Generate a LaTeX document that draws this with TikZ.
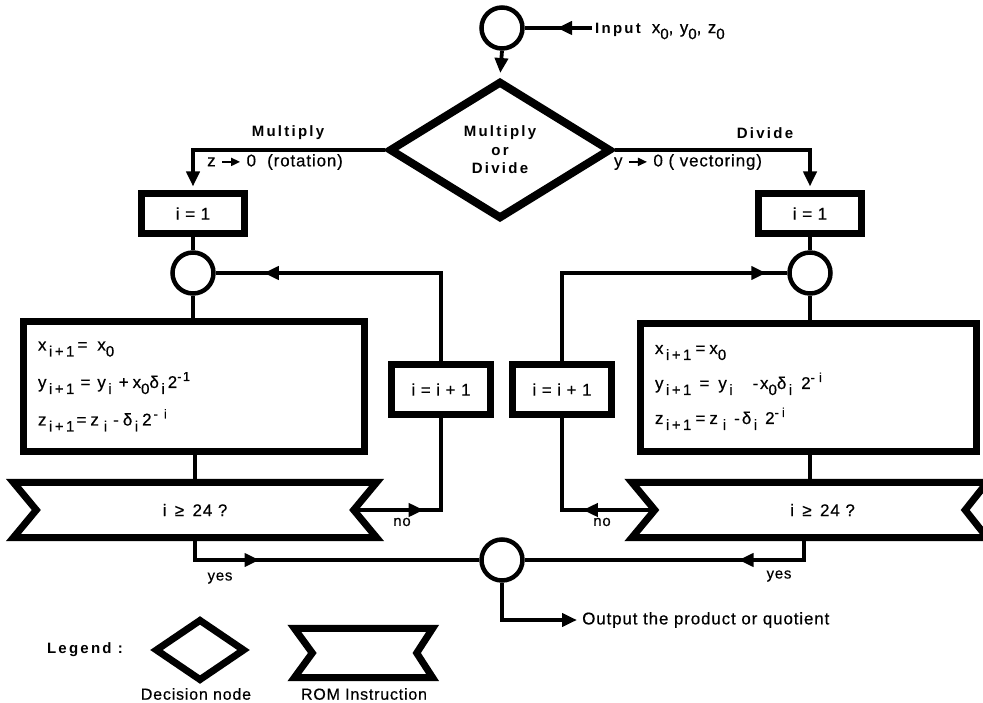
\documentclass[tikz,border=0pt]{standalone}
\usepackage{fontspec}
\setmainfont{Liberation Sans}[LetterSpace=5,FakeBold=0.4]
\newfontfamily\hdr{Liberation Sans}[LetterSpace=15]
\newfontfamily\eqf{Liberation Sans}[LetterSpace=10,FakeBold=0.4]
\usetikzlibrary{arrows.meta,shapes.geometric,decorations.markings}
\newcommand{\lo}[1]{\raisebox{-6pt}{\fontsize{15}{15}\selectfont #1}}
\newcommand{\hi}[1]{\raisebox{7pt}{\fontsize{13}{13}\selectfont #1}}
\newcommand{\ipo}{i\hspace{2.5pt}+\hspace{2.5pt}1}
\newcommand{\sarr}{\tikz[baseline=-4.5pt]\draw[line width=1.8pt,-{Triangle[length=9pt,width=8pt]}] (0pt,0pt) -- (18pt,0pt);}
\begin{document}
\begin{tikzpicture}[x=1pt,y=-1pt,font=\fontsize{17}{20}\selectfont,
  >={Triangle[length=15pt,width=13pt]},
  conn/.style={line width=3.8pt},
  midarr/.style={postaction={decorate},decoration={markings,mark=at position #1 with {\arrow{>}}}},
  jn/.style={circle,draw,line width=4.5pt,minimum size=41pt,inner sep=0pt},
  box/.style={draw,line width=7pt,inner sep=0pt,align=center},
  rom/.style={line width=7pt,line join=miter},
  hd/.style={font=\hdr\bfseries\fontsize{15}{18.5}\selectfont},
  sm/.style={font=\fontsize{15}{18}\selectfont}]
\fill[white] (0,0) rectangle (983,703);
\useasboundingbox (0,0) rectangle (983,703);

% top
\node[jn] (c0) at (502,28) {};
\coordinate (inp) at (592,28);
\node[anchor=west,inner sep=0pt] (inl) at (595,31) {{\hdr\bfseries\fontsize{15}{18}\selectfont Input}\hspace{11pt}{\eqf x\lo{0}, y\lo{0}, z\lo{0}}};
\draw[conn,midarr=35pt] (inp) -- (c0.east);

\node[diamond,draw,line width=8pt,minimum width=222pt,minimum height=138pt,inner sep=0pt,align=center,hd] (dec) at (500,150) {Multiply\\or\\Divide};
\draw[conn,->,shorten >=4pt] (c0.south) -- (dec.north);

% branch labels
\node[hd] (mul) at (288,133) {Multiply};
\node (rot) at (275,162) {z \sarr{} 0 \ (rotation)};
\node[hd] (div) at (765,133) {Divide};
\node (vec) at (688,162) {y \sarr{} 0 ( vectoring)};

% i = 1 boxes
\node[box,minimum width=103pt,minimum height=40pt] (li1) at (193,213.5) {i = 1};
\node[box,minimum width=103pt,minimum height=40pt] (ri1) at (810,213.5) {i = 1};
\draw[conn,->,shorten >=3.5pt] (dec.west) -| (li1.north);
\draw[conn,->,shorten >=3.5pt] (dec.east) -| (ri1.north);

% circles
\node[jn] (lc) at (193,273) {};
\node[jn] (rc) at (810,273) {};
\draw[conn] (li1.south) -- (lc.north);
\draw[conn] (ri1.south) -- (rc.north);

% big boxes
\node[box,minimum width=341pt,minimum height=130pt,text width=312pt,inner xsep=14.5pt,align=left,font=\eqf\fontsize{17}{37.5}\selectfont] (lbox) at (194,386.5)
 {x\lo{\,\ipo}\hspace{3pt}=\hspace{10pt}x\lo{0}\\
  y\lo{\,\ipo}\hspace{6pt}=\hspace{7pt}y\lo{\,i}\hspace{7pt}+\hspace{4pt}x\lo{0}δ\lo{\,i}\hspace{3pt}2\hi{-1}\\
  z\lo{\,\ipo}\hspace{2pt}=\hspace{4pt}z\lo{\,\,i}\hspace{6pt}-\hspace{4pt}δ\lo{\,i}\hspace{4pt}2\hi{\hspace{2pt}-\hspace{6pt}i}};
\node[box,minimum width=336pt,minimum height=128pt,text width=307pt,inner xsep=14.5pt,align=left,font=\eqf\fontsize{17}{35}\selectfont] (rbox) at (808.5,387.5)
 {x\lo{\,\ipo}\hspace{4pt}=\hspace{4pt}x\lo{0}\\
  y\lo{\,\ipo}\hspace{8pt}=\hspace{9pt}y\lo{\,i}\hspace{20pt}-x\lo{0}δ\lo{\,i}\hspace{9pt}2\hi{-\hspace{4pt}i}\\
  z\lo{\,\ipo}\hspace{4pt}=\hspace{4pt}z\lo{\,\,i}\hspace{8pt}-\hspace{2pt}δ\lo{\,i}\hspace{8pt}2\hi{-\hspace{3pt}i}};
\draw[conn] (lc.south) -- (lc.south |- lbox.north);
\draw[conn] (rc.south) -- (rc.south |- rbox.north);

% i = i + 1 boxes
\node[box,minimum width=99pt,minimum height=50pt] (lii) at (441,389.5) {i = i + 1};
\node[box,minimum width=99pt,minimum height=50pt] (rii) at (562,389.5) {i = i + 1};

% ROM instructions
\node[minimum width=363pt,minimum height=55pt,inner sep=0pt] (lrom) at (195,510) {i \,≥\, 24 ?};
\draw[rom] (lrom.north west) -- (lrom.north east) -- ([xshift=-23pt]lrom.east) -- (lrom.south east)
  -- (lrom.south west) -- ([xshift=23pt]lrom.west) -- cycle;
\node[minimum width=355pt,minimum height=55pt,inner sep=0pt] (rrom) at (809.5,510) {\hspace*{26pt}i \,≥\, 24 ?};
\draw[rom] (rrom.north west) -- (rrom.north east) -- ([xshift=-22pt]rrom.east) -- (rrom.south east)
  -- (rrom.south west) -- ([xshift=23pt]rrom.west) -- cycle;
\draw[conn] (lbox.south -| lrom.north) -- (lrom.north);
\draw[conn] (rc.south |- rbox.south) -- (rc.south |- rrom.north);

% loops
\coordinate (lnotch) at ([xshift=-23pt]lrom.east);
\coordinate (rnotch) at ([xshift=23pt]rrom.west);
\draw[conn,midarr=70pt] (lnotch) -| (lii.south);
\draw[conn,midarr=-48pt] (lii.north) |- (lc.east);
\draw[conn,midarr=72pt] (rnotch) -| (rii.south);
\draw[conn,midarr=-21pt] (rii.north) |- (rc.west);
\node[sm] (nol) at (402,522) {no};
\node[sm] (nor) at (602,522) {no};

% bottom
\node[jn] (bc) at (502,560) {};
\coordinate (lyes) at (195,537.5);
\coordinate (ryes) at (804,537.5);
\draw[conn,midarr=87pt] (lyes) |- (bc.west);
\draw[conn,midarr=88pt] (ryes) |- (bc.east);
\node[sm] (yl) at (220,578) {yes};
\node[sm] (yr) at (779,576) {yes};
\coordinate (outp) at (577,620);
\draw[conn,->] (bc.south) |- (outp);
\node[anchor=west,inner sep=0pt] (outl) at (582,620) {Output the product or quotient};

% legend
\node[hd] (leg) at (85,650) {Legend :};
\node[diamond,draw,line width=7pt,minimum width=90pt,minimum height=62pt,inner sep=0pt] (ldia) at (200,650) {};
\node[font=\fontsize{16}{19}\selectfont] (ldt) at (196,694) {Decision node};
\node[minimum width=138pt,minimum height=49pt,inner sep=0pt] (lrm) at (363.5,653) {};
\draw[rom] (lrm.north west) -- (lrm.north east) -- ([xshift=-16pt]lrm.east) -- (lrm.south east)
  -- (lrm.south west) -- ([xshift=18pt]lrm.west) -- cycle;
\node[font=\fontsize{16}{19}\selectfont] (lrt) at (364,694) {ROM Instruction};
\end{tikzpicture}
\end{document}
